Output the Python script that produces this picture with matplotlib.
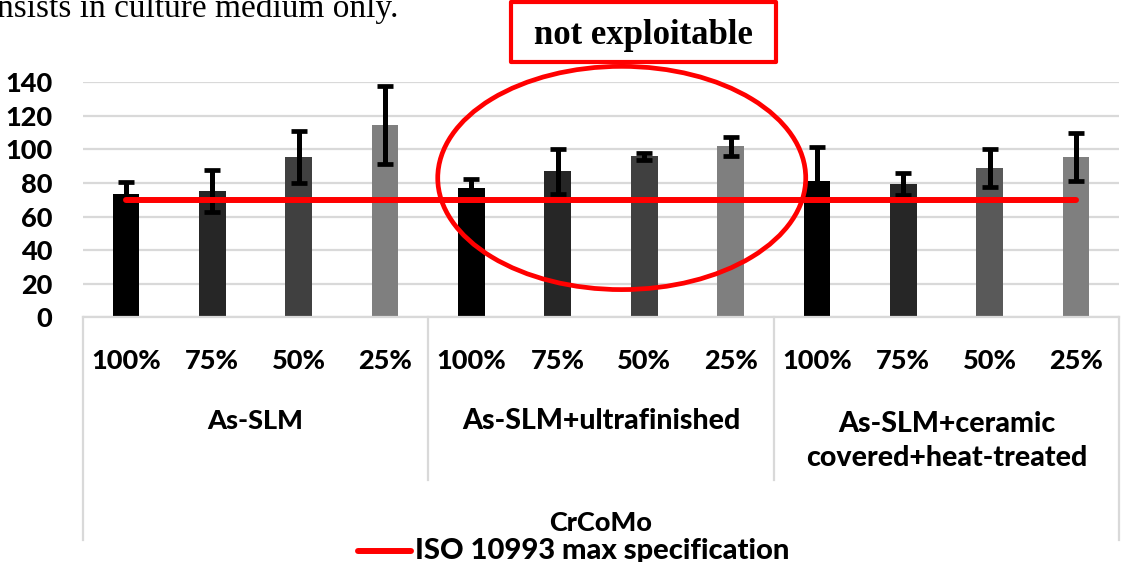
import matplotlib
matplotlib.use("Agg")
import matplotlib.pyplot as plt
from matplotlib.patches import Ellipse, Rectangle
from matplotlib.lines import Line2D
from matplotlib.transforms import blended_transform_factory

# ---- data ----
concentrations = ["100%", "75%", "50%", "25%"]
surfaces = ["As-SLM", "As-SLM+ultrafinished", "As-SLM+ceramic\ncovered+heat-treated"]
alloy = "CrCoMo"
values = [73.5, 75.5, 95.5, 114.5,
          77.0, 87.0, 96.0, 102.0,
          81.0, 79.5, 89.0, 95.5]
errors = [7.0, 12.5, 15.7, 23.0,
          5.5, 13.5, 2.0, 5.7,
          20.6, 6.5, 11.5, 14.3]
bar_colors = ["#000000", "#262626", "#404040", "#7f7f7f",
              "#000000", "#262626", "#404040", "#7f7f7f",
              "#000000", "#262626", "#595959", "#7f7f7f"]
iso_limit = 70
iso_label = "ISO 10993 max specification"
yticks = [0, 20, 40, 60, 80, 100, 120, 140]

W, H = 1121, 562
DPI = 100
fig = plt.figure(figsize=(W / DPI, H / DPI), dpi=DPI)
fig.patch.set_facecolor("white")

SANS = ["Lato", "DejaVu Sans"]
SERIF = ["Liberation Serif", "DejaVu Serif"]
WEIGHT = "black"
LABEL_SIZE = 19.5

def fx(x):
    return x / W

def fy(y):
    return 1 - y / H

# axes box in pixel terms
left_px, right_px, top_px, bottom_px = 82.7, 1119.3, 82.3, 317.3
ax = fig.add_axes([fx(left_px), fy(bottom_px),
                   fx(right_px - left_px), (bottom_px - top_px) / H])
ax_h_px = bottom_px - top_px

n = len(values)
x = list(range(n))
ax.bar(x, values, width=0.31, color=bar_colors, zorder=2)
ax.errorbar(x, values, yerr=errors, fmt="none", ecolor="black",
            elinewidth=3.6, capsize=5.5, capthick=3.4, zorder=3)
ax.plot(x, [iso_limit] * n, color="#ff0000", lw=4.3,
        solid_capstyle="round", zorder=4, label=iso_label)

ax.set_xlim(-0.5, n - 0.5)
ax.set_ylim(0, 140)
ax.set_yticks(yticks)
ax.set_yticklabels([str(v) for v in yticks], fontsize=LABEL_SIZE,
                   fontweight=WEIGHT, family=SANS)
ax.tick_params(axis="y", length=0, pad=22)
ax.tick_params(axis="x", length=0, labelbottom=False)
ax.yaxis.grid(True, color="#d9d9d9", lw=1.6, zorder=0)
ax.set_axisbelow(True)
for s in ["left", "right", "top"]:
    ax.spines[s].set_visible(False)
ax.spines["bottom"].set_color("#d9d9d9")
ax.spines["bottom"].set_linewidth(1.6)

# multi-level category axis
tr = blended_transform_factory(ax.transData, ax.transAxes)

def ay(ypx):
    return (bottom_px - ypx) / ax_h_px

grey = "#d9d9d9"
n_groups = len(surfaces)
per = len(concentrations)
for g in range(n_groups + 1):
    xb = g * per - 0.5
    yend = 540 if g in (0, n_groups) else 480
    ax.add_line(Line2D([xb, xb], [0, ay(yend)], transform=tr,
                       color=grey, lw=1.6, clip_on=False))

lab_kw = dict(transform=tr, ha="center", va="center", fontsize=LABEL_SIZE,
              fontweight=WEIGHT, family=SANS, clip_on=False)
for i in range(n):
    ax.text(i, ay(361), concentrations[i % per], **lab_kw)
for g, name in enumerate(surfaces):
    xc = g * per + (per - 1) / 2
    size = 20.5 if len(name) > 10 else LABEL_SIZE
    if "\n" in name:
        ax.text(xc, ay(441), name, linespacing=1.35,
                **{**lab_kw, "fontsize": size})
    else:
        ax.text(xc, ay(421), name, **{**lab_kw, "fontsize": size})
ax.text((n - 1) / 2, ay(523), alloy, **lab_kw)

# highlighted region
ax.add_patch(Ellipse((5.74, 83), width=4.26, height=133, fill=False,
                     edgecolor="#ff0000", lw=3.4, zorder=5, clip_on=False))

# "not exploitable" callout box
fig.add_artist(Rectangle((fx(511), fy(62)), fx(776 - 511), (62 - 2) / H,
                         transform=fig.transFigure, fill=False,
                         edgecolor="#ff0000", lw=3.0, joinstyle="round"))
fig.text(fx(643.5), fy(35), "not exploitable", ha="center", va="center",
         fontsize=25, fontweight="bold", family=SERIF)

# legend
fig.add_artist(Line2D([fx(358), fx(411)], [fy(551), fy(551)],
                      transform=fig.transFigure, color="#ff0000", lw=4.3,
                      solid_capstyle="round"))
fig.text(fx(415), fy(551), iso_label, ha="left", va="center",
         fontsize=21, fontweight=WEIGHT, family=SANS)

# caption fragment running off the top
fig.text(fx(-3), fy(17), "nsists in culture medium only.", ha="left",
         va="baseline", fontsize=24, family=SERIF)

fig.savefig("out.png", dpi=DPI, facecolor="white")
